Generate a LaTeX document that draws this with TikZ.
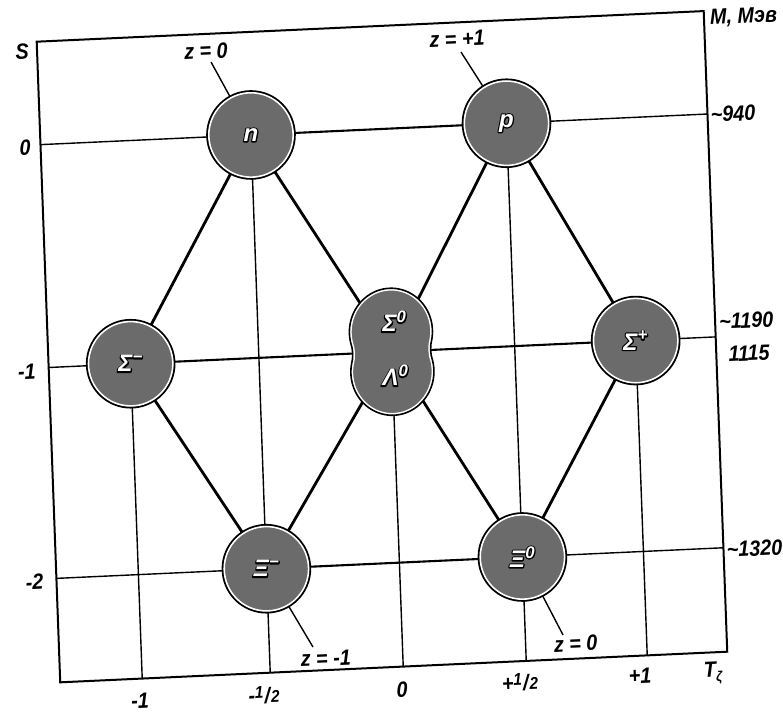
\documentclass[tikz,border=0pt]{standalone}
\usepackage{fontspec}
\setmainfont{Liberation Sans}
\newfontfamily\labf{Liberation Sans}[FakeStretch=0.9]
\usetikzlibrary{shapes.geometric,backgrounds}
\newcommand\owhite[1]{\rlap{\special{pdf:literal direct 0 g 0 G 2.4 w 1 j 2 Tr}#1\special{pdf:literal direct 0 Tr}}{\color{white}#1}}
\newcommand\halffrac{\raisebox{5pt}{\fontsize{17}{17}\selectfont 1}\kern1pt/\kern1pt{\fontsize{17}{17}\selectfont 2}}
\tikzset{
 particle/.style={circle, draw=black, line width=1.6pt, fill=black!58, minimum size=88pt, inner sep=0pt,
   path picture={\draw[white, line width=1.6pt] (path picture bounding box.center) circle (42.2pt);},
   font=\fontsize{24}{24}\selectfont\bfseries\itshape},
 plabel/.style={inner sep=0pt, font=\fontsize{24}{24}\selectfont\bfseries\itshape},
 gridline/.style={line width=1.4pt},
 innerline/.style={line width=2.1pt},
 hexedge/.style={line width=2.8pt},
 framebox/.style={line width=2pt, line join=miter},
 lab/.style={inner sep=0pt, font=\labf\fontsize{22}{22}\selectfont\bfseries\itshape, rotate=2.5},
}
\begin{document}
\begin{tikzpicture}[x=1pt,y=1pt]
\useasboundingbox (0,0) rectangle (783,712);
\begin{scope}[shift={(36.7,670.3)}, x={(1pt,0.0459pt)}, y={(0.0367pt,-0.9994pt)}]
 % frame corners and line ends
 \coordinate (TL) at (0,0);
 \coordinate (TR) at (667,0);
 \coordinate (BR) at (667,641);
 \coordinate (BL) at (0,641);
 \coordinate (l0) at (0,103);
 \coordinate (l1) at (0,326);
 \coordinate (l2) at (0,537);
 \coordinate (r0) at (667,103);
 \coordinate (r1) at (667,326);
 \coordinate (r2) at (667,537);
 \coordinate (bm1) at (82,641);
 \coordinate (bmh) at (210,641);
 \coordinate (b0) at (343,641);
 \coordinate (bph) at (466,641);
 \coordinate (bp1) at (587,641);
 \coordinate (zc1) at (173.3,28.3);
 \coordinate (zc2) at (423.2,29.8);
 \coordinate (zc3) at (253.6,617.3);
 \coordinate (zc4) at (503.7,616.8);
 % particles
 \node[particle] (n) at (210.5,103) {\owhite{n}};
 \node[particle] (p) at (466,103) {\owhite{p}};
 \node[particle] (sm) at (82,326) {\owhite{Σ\textsuperscript{−}}};
 \node[particle] (sp) at (587,326) {\owhite{Σ\textsuperscript{+}}};
 \node[particle] (xm) at (210,537) {\owhite{Ξ\textsuperscript{−}}};
 \node[particle] (x0) at (466,537) {\owhite{Ξ\textsuperscript{0}}};
 \node[ellipse, minimum width=83pt, minimum height=127pt, inner sep=0pt] (sl) at (343,326) {};
 \begin{scope}[shift={(343,326)}]
  \fill[black!58] plot[domain=-12:192, samples=60] ({41.5*cos(\x)}, {-20-43.5*sin(\x)}) .. controls (-38.4,-4) and (-38.4,4) .. (-40.6,10.96) -- plot[domain=-12:192, samples=60] ({-41.5*cos(\x)}, {20+43.5*sin(\x)}) .. controls (38.4,4) and (38.4,-4) .. (40.6,-10.96) -- cycle;
  \begin{scope}
   \clip plot[domain=-12:192, samples=60] ({41.5*cos(\x)}, {-20-43.5*sin(\x)}) .. controls (-38.4,-4) and (-38.4,4) .. (-40.6,10.96) -- plot[domain=-12:192, samples=60] ({-41.5*cos(\x)}, {20+43.5*sin(\x)}) .. controls (38.4,4) and (38.4,-4) .. (40.6,-10.96) -- cycle;
   \draw[white, line width=4.6pt] plot[domain=-12:192, samples=60] ({41.5*cos(\x)}, {-20-43.5*sin(\x)}) .. controls (-38.4,-4) and (-38.4,4) .. (-40.6,10.96) -- plot[domain=-12:192, samples=60] ({-41.5*cos(\x)}, {20+43.5*sin(\x)}) .. controls (38.4,4) and (38.4,-4) .. (40.6,-10.96) -- cycle;
  \end{scope}
  \draw[line width=1.6pt, line join=round] plot[domain=-12:192, samples=60] ({41.5*cos(\x)}, {-20-43.5*sin(\x)}) .. controls (-38.4,-4) and (-38.4,4) .. (-40.6,10.96) -- plot[domain=-12:192, samples=60] ({-41.5*cos(\x)}, {20+43.5*sin(\x)}) .. controls (38.4,4) and (38.4,-4) .. (40.6,-10.96) -- cycle;
 \end{scope}
 \node[plabel] (tS0) at (347,296) {\owhite{Σ\textsuperscript{0}}};
 \node[plabel] (tL0) at (346,350) {\owhite{Λ\textsuperscript{0}}};
 % lines behind
 \begin{scope}[on background layer]
  \draw[gridline] (l0) -- (n.center) (p.center) -- (r0)
    (l1) -- (sm.center) (sp.center) -- (r1)
    (l2) -- (xm.center) (x0.center) -- (r2)
    (sm.center) -- (bm1) (n.center) -- (xm.center) -- (bmh)
    (sl.center) -- (b0) (p.center) -- (x0.center) -- (bph) (sp.center) -- (bp1);
  \draw[innerline] (n.center) -- (p.center) (sm.center) -- (sp.center) (xm.center) -- (x0.center);
  \draw[hexedge, line join=round] (n.center) -- (sm.center) -- (xm.center) -- (sl.center) -- (x0.center) -- (sp.center) -- (p.center) -- (sl.center) -- (n.center);
  \draw[gridline] (zc1) -- (n.center) (zc2) -- (p.center) (zc3) -- (xm.center) (zc4) -- (x0.center);
 \end{scope}
 % frame
 \draw[framebox] (TL) -- (TR) -- (BR) -- (BL) -- cycle;
 % axis labels
 \node[lab] (lS) at (-15,9.6) {S};
 \node[lab] (ls0) at (-15.6,105.6) {0};
 \node[lab] (ls1) at (-22,329) {-1};
 \node[lab] (ls2) at (-22,539.6) {-2};
 \node[lab, anchor=west] (lM) at (673,8) {M, Мэв};
 \node[lab, anchor=west] (l940) at (670,104) {\textasciitilde940};
 \node[lab, anchor=west] (l1190) at (671,311) {\textasciitilde1190};
 \node[lab, anchor=west] (l1115) at (679,344) {1115};
 \node[lab, anchor=west] (l1320) at (670,539) {\textasciitilde1320};
 \node[lab] (lt1) at (79,663) {-1};
 \node[lab] (lt2) at (203,663) {-\halffrac};
 \node[lab] (lt3) at (341,664) {0};
 \node[lab] (lt4) at (459,662) {+\halffrac};
 \node[lab] (lt5) at (579,661) {+1};
 \node[lab] (lTz) at (652,662) {T\raisebox{-5pt}{\fontsize{14}{14}\selectfont ζ}};
 % charge labels
 \node[lab] (z1) at (168.6,17) {z = 0};
 \node[lab] (z2) at (419.7,16.6) {z = +1};
 \node[lab] (z3) at (266,629) {z = -1};
 \node[lab] (z4) at (516,626) {z = 0};
\end{scope}
\end{tikzpicture}
\end{document}
